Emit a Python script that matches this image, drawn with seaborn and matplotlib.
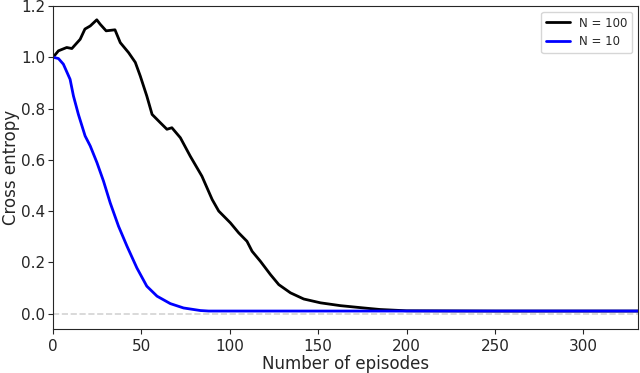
import numpy as np
import pandas as pd
import matplotlib
matplotlib.use("Agg")
import matplotlib.pyplot as plt
import seaborn as sns

sns.set_style("ticks")
plt.rcParams['font.family'] = ['DejaVu Sans']

# Values
episodes_n100 = [0, 3, 7.7, 10.6, 15.3, 18, 21, 24.7, 26.6, 30, 35, 38, 42.7, 46.5, 49.3,
                 53, 56, 60.6, 64.4, 67.2, 72, 77.6, 84.2, 90, 93.7, 100.3, 105, 109.7,
                 112.6, 117.3, 123, 127.7, 134.3, 141.8, 151.3, 162.6, 175.8, 185, 200,
                 250, 300, 331]
ce_n100 = [1.0, 1.025, 1.038, 1.034, 1.07, 1.11, 1.122, 1.146, 1.129, 1.103, 1.107, 1.057,
           1.018, 0.98, 0.927, 0.849, 0.777, 0.745, 0.719, 0.725, 0.686, 0.614, 0.536,
           0.445, 0.40, 0.354, 0.315, 0.282, 0.243, 0.204, 0.152, 0.113, 0.081, 0.057,
           0.042, 0.031, 0.022, 0.016, 0.011, 0.01, 0.01, 0.01]

episodes_n10 = [0, 3, 5.8, 9.6, 11.5, 14.3, 18.1, 21, 24.8, 28.5, 32.3, 37, 41.8, 47.4,
                53, 58.8, 66.3, 73.8, 83.3, 88, 150, 200, 250, 300, 331]
ce_n10 = [1.0, 0.995, 0.973, 0.914, 0.849, 0.777, 0.693, 0.654, 0.589, 0.517, 0.432,
          0.341, 0.263, 0.178, 0.107, 0.068, 0.039, 0.022, 0.012, 0.01, 0.01, 0.01,
          0.01, 0.01, 0.01]

series_labels = ["N = 100", "N = 10"]
colors = {"N = 100": "black", "N = 10": "blue"}

df = pd.concat([
    pd.DataFrame({'Episode': episodes_n100, 'CE': ce_n100, 'Run': series_labels[0]}),
    pd.DataFrame({'Episode': episodes_n10, 'CE': ce_n10, 'Run': series_labels[1]}),
])

fig, ax = plt.subplots(figsize=(6.4, 3.73), dpi=100)
fig.subplots_adjust(left=0.083, right=0.997, top=0.984, bottom=0.118)

ax.axhline(0.0, color='lightgrey', ls='--', lw=1.2, zorder=0)
sns.lineplot(data=df, x='Episode', y='CE', hue='Run', hue_order=series_labels,
             palette=colors, linewidth=2, sort=True, ax=ax)

ax.set_xlim(0, 331)
ax.set_ylim(-0.06, 1.2)
ax.set_xticks([0, 50, 100, 150, 200, 250, 300])
ax.set_yticks([0.0, 0.2, 0.4, 0.6, 0.8, 1.0, 1.2])
ax.tick_params(labelsize=11)
ax.tick_params(axis='y', pad=2)
ax.set_xlabel('Number of episodes', fontsize=12, labelpad=1)
ax.set_ylabel('Cross entropy', fontsize=12, labelpad=1)

handles, labels = ax.get_legend_handles_labels()
ax.legend(handles, labels, loc='upper right', fontsize=8.5, frameon=True)

for s in ax.spines.values():
    s.set_visible(True)

plt.savefig('out.png', dpi=100)
plt.close()
